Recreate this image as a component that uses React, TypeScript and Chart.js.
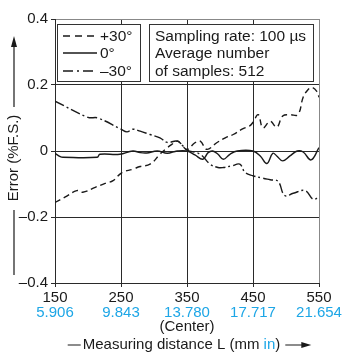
import React, { useEffect, useRef } from "react";
import { Chart, registerables } from "chart.js";

Chart.register(...registerables);

// ---- data ----
const xTicks = [150, 250, 350, 450, 550];
const xTickLabels = ["150", "250", "350", "450", "550"];
const xTickLabelsIn = ["5.906", "9.843", "13.780", "17.717", "21.654"];
const yTicks = [-0.4, -0.2, 0, 0.2, 0.4];
const yTickLabels = ["\u20130.4", "\u20130.2", "0", "0.2", "0.4"];

const seriesLabels = ["+30\u00b0", "0\u00b0", "\u201330\u00b0"];

const distPlus30 = [150, 165, 183, 192, 211, 226, 238, 251, 268, 279, 294, 309, 317, 327, 335, 339, 350, 362, 370, 380, 395, 408, 420, 435, 445, 450, 458, 465, 476, 486, 495, 506, 518, 526, 533, 539, 547, 550];
const errPlus30 = [-0.156, -0.14, -0.12, -0.125, -0.11, -0.098, -0.09, -0.066, -0.055, -0.047, -0.04, -0.01, 0.005, 0.02, 0.03, 0.026, 0.005, 0.025, 0.03, 0.005, 0.025, 0.04, 0.05, 0.068, 0.076, 0.087, 0.11, 0.07, 0.09, 0.072, 0.106, 0.11, 0.11, 0.163, 0.185, 0.193, 0.18, 0.163];

const distZero = [150, 158, 162, 214, 218, 248, 268, 279, 289, 305, 320, 335, 350, 362, 374, 382, 389, 397, 405, 415, 426, 450, 461, 471, 480, 486, 495, 506, 517, 526, 538, 550];
const errZero = [-0.007, -0.017, -0.019, -0.019, -0.01, -0.01, 0, -0.005, -0.006, 0, -0.007, 0, 0, -0.012, -0.025, -0.005, 0, -0.01, -0.025, -0.01, 0, 0, -0.015, -0.038, -0.007, -0.015, -0.03, -0.015, 0, -0.003, -0.027, 0.01];

const distMinus30 = [150, 200, 215, 250, 259, 268, 279, 294, 309, 320, 335, 344, 350, 370, 385, 397, 405, 418, 430, 438, 450, 464, 476, 488, 498, 511, 529, 541, 550];
const errMinus30 = [0.151, 0.102, 0.1, 0.066, 0.058, 0.066, 0.06, 0.05, 0.04, 0.026, 0.03, 0.015, 0.003, -0.01, -0.04, -0.05, -0.05, -0.045, -0.04, -0.065, -0.075, -0.082, -0.087, -0.092, -0.135, -0.128, -0.12, -0.146, -0.14];

const infoLines = ["Sampling rate: 100 \u00b5s", "Average number", "of samples: 512"];

const FONT = '"Liberation Sans", Arial, sans-serif';
const BLUE = "#1da6e6";
const INK = "#1a1a1a";
const dashes = [[6, 4], [], [10, 3, 2, 3]];
const legendDashes = [[7, 5], [], [10, 4, 2, 4]];

const toPts = (xs: number[], ys: number[]) => xs.map((x, i) => ({ x, y: ys[i] }));

const decorPlugin = {
  id: "decor",
  afterDraw(chart: any) {
    const { ctx } = chart;
    const xs = chart.scales.x;
    ctx.save();
    ctx.font = `15.5px ${FONT}`;
    ctx.textBaseline = "middle";

    // legend box
    ctx.fillStyle = "#fff";
    ctx.strokeStyle = "#333";
    ctx.lineWidth = 1;
    ctx.fillRect(57, 24, 84, 58);
    ctx.strokeRect(57.5, 24.5, 83, 57);
    const rows = [36, 53, 71];
    seriesLabels.forEach((lab, i) => {
      ctx.beginPath();
      ctx.setLineDash(legendDashes[i]);
      ctx.strokeStyle = INK;
      ctx.lineWidth = 1.4;
      ctx.moveTo(63, rows[i]);
      ctx.lineTo(97, rows[i]);
      ctx.stroke();
      ctx.setLineDash([]);
      ctx.fillStyle = INK;
      ctx.textAlign = "left";
      ctx.fillText(lab, 100, rows[i] + 1);
    });

    // info box
    ctx.fillStyle = "#fff";
    ctx.fillRect(149, 24, 165, 58);
    ctx.strokeStyle = "#333";
    ctx.lineWidth = 1;
    ctx.strokeRect(149.5, 24.5, 164, 57);
    ctx.fillStyle = INK;
    infoLines.forEach((t, i) => ctx.fillText(t, 155, rows[i] + 1));

    // blue tick labels
    ctx.font = `15px ${FONT}`;
    ctx.textAlign = "center";
    ctx.fillStyle = BLUE;
    xTicks.forEach((v, i) => {
      ctx.fillText(xTickLabelsIn[i], xs.getPixelForValue(v), 313);
    });
    ctx.fillStyle = INK;
    ctx.fillText("(Center)", xs.getPixelForValue(350), 327);

    // x title
    const p1 = "Measuring distance L (mm ";
    const p2 = "in";
    const p3 = ")";
    const w1 = ctx.measureText(p1).width;
    const w2 = ctx.measureText(p2).width;
    const w3 = ctx.measureText(p3).width;
    const total = w1 + w2 + w3;
    const cx = 181.5;
    let sx = cx - total / 2;
    const ty = 345;
    ctx.textAlign = "left";
    ctx.fillStyle = INK;
    ctx.fillText(p1, sx, ty);
    ctx.fillStyle = BLUE;
    ctx.fillText(p2, sx + w1, ty);
    ctx.fillStyle = INK;
    ctx.fillText(p3, sx + w1 + w2, ty);
    ctx.strokeStyle = INK;
    ctx.lineWidth = 1.2;
    ctx.beginPath();
    ctx.moveTo(sx - 15, ty);
    ctx.lineTo(sx - 2, ty);
    ctx.moveTo(sx + total + 5, ty);
    ctx.lineTo(sx + total + 22, ty);
    ctx.stroke();
    const ax = sx + total + 31;
    ctx.beginPath();
    ctx.moveTo(ax, ty);
    ctx.lineTo(ax - 10, ty - 3);
    ctx.lineTo(ax - 10, ty + 3);
    ctx.closePath();
    ctx.fill();

    // y title
    ctx.save();
    ctx.translate(14, 158);
    ctx.rotate(-Math.PI / 2);
    ctx.textAlign = "center";
    ctx.fillText("Error (%F.S.)", 0, 0);
    ctx.restore();
    ctx.beginPath();
    ctx.moveTo(14, 107);
    ctx.lineTo(14, 45);
    ctx.moveTo(14, 210);
    ctx.lineTo(14, 275);
    ctx.stroke();
    ctx.beginPath();
    ctx.moveTo(14, 36);
    ctx.lineTo(11, 47);
    ctx.lineTo(17, 47);
    ctx.closePath();
    ctx.fill();

    ctx.restore();
  },
};

export default function App() {
  const ref = useRef<HTMLCanvasElement | null>(null);
  useEffect(() => {
    if (!ref.current) return;
    const pts = [toPts(distPlus30, errPlus30), toPts(distZero, errZero), toPts(distMinus30, errMinus30)];
    const chart = new Chart(ref.current, {
      type: "line",
      data: {
        datasets: seriesLabels.map((label, i) => ({
          label,
          data: pts[i],
          borderColor: INK,
          borderWidth: 1.4,
          borderDash: dashes[i],
          pointRadius: 0,
          tension: 0.4,
          fill: false,
        })),
      },
      options: {
        animation: false,
        responsive: false,
        devicePixelRatio: 1,
        layout: { padding: { top: 19, right: 24, left: 0, bottom: 0 } },
        plugins: { legend: { display: false }, tooltip: { enabled: false } },
        scales: {
          x: {
            type: "linear",
            min: 150,
            max: 550,
            afterBuildTicks: (s: any) => {
              s.ticks = xTicks.map((v) => ({ value: v }));
            },
            afterFit: (s: any) => {
              s.height = 71;
            },
            ticks: {
              autoSkip: false,
              maxRotation: 0,
              padding: 2,
              color: INK,
              font: { family: FONT, size: 15 },
              callback: (v: any) => xTickLabels[xTicks.indexOf(Number(v))] ?? "",
            },
            grid: {
              color: (c: any) => (c.tick && c.tick.value === 550 ? "#888" : "#2a2a2a"),
              tickColor: "#2a2a2a",
              tickLength: 4,
              lineWidth: 1,
            },
            border: { display: true, color: "#2a2a2a" },
          },
          y: {
            type: "linear",
            min: -0.4,
            max: 0.4,
            afterBuildTicks: (s: any) => {
              s.ticks = yTicks.map((v) => ({ value: v }));
            },
            afterFit: (s: any) => {
              s.width = 55;
            },
            ticks: {
              padding: 3,
              color: INK,
              font: { family: FONT, size: 15 },
              callback: (v: any) => {
                const i = yTicks.findIndex((t) => Math.abs(t - Number(v)) < 1e-9);
                return i >= 0 ? yTickLabels[i] : "";
              },
            },
            grid: {
              color: (c: any) => (c.tick && Math.abs(c.tick.value - 0.4) < 1e-9 ? "#888" : "#2a2a2a"),
              tickColor: "#2a2a2a",
              tickLength: 4,
              lineWidth: 1,
            },
            border: { display: true, color: "#2a2a2a" },
          },
        },
      },
      plugins: [decorPlugin],
    });
    return () => chart.destroy();
  }, []);
  return (
    <div style={{ position: "absolute", left: 0, top: 0, width: 343, height: 354, background: "#fff" }}>
      <canvas ref={ref} width={343} height={354} style={{ display: "block", width: 343, height: 354 }} />
    </div>
  );
}
